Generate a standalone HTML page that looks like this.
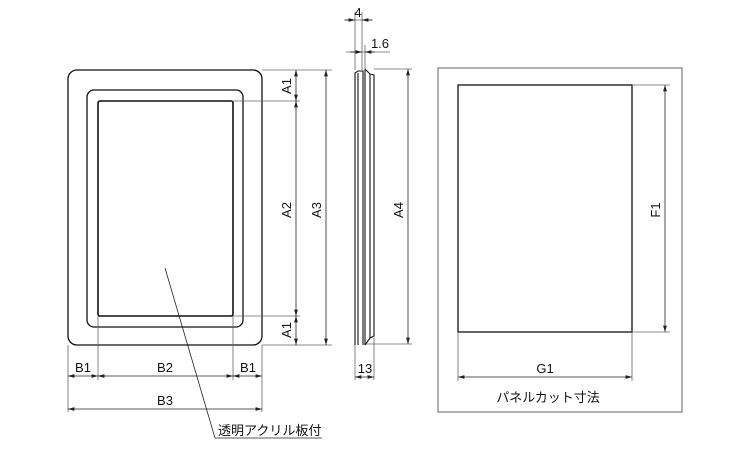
<!DOCTYPE html>
<html><head><meta charset="utf-8"><style>
body{margin:0;background:#fff}
svg{display:block}
text{font-family:"Liberation Sans","Noto Sans CJK JP",sans-serif;font-size:13px;fill:#111}
</style></head><body>
<svg width="750" height="450" viewBox="0 0 750 450" xmlns="http://www.w3.org/2000/svg">
<defs>
<marker id="a" viewBox="0 0 10 6" refX="10" refY="3" markerWidth="8" markerHeight="5" orient="auto-start-reverse"><path d="M0,0L10,3L0,6z" fill="#222"/></marker>
</defs>
<g fill="none" stroke="#111" stroke-width="1.3">
<rect x="68" y="70" width="194" height="275" rx="9"/>
<rect x="87" y="90" width="156" height="237" rx="7"/>
<rect x="98" y="101" width="135" height="215" rx="2" stroke-width="1.6"/>
</g>
<g stroke="#666" stroke-width="0.8" fill="none">
<line x1="262" y1="70" x2="332" y2="70"/>
<line x1="233" y1="101" x2="300" y2="101"/>
<line x1="233" y1="316" x2="300" y2="316"/>
<line x1="262" y1="345" x2="332" y2="345"/>
<line x1="68" y1="345" x2="68" y2="412"/>
<line x1="98" y1="316" x2="98" y2="380"/>
<line x1="233" y1="316" x2="233" y2="380"/>
<line x1="262" y1="345" x2="262" y2="412"/>
</g>
<g stroke="#222" stroke-width="0.8" marker-start="url(#a)" marker-end="url(#a)">
<line x1="296" y1="70" x2="296" y2="101"/>
<line x1="296" y1="101" x2="296" y2="316"/>
<line x1="296" y1="316" x2="296" y2="345"/>
<line x1="326" y1="70" x2="326" y2="345"/>
<line x1="68" y1="376" x2="98" y2="376"/>
<line x1="98" y1="376" x2="233" y2="376"/>
<line x1="233" y1="376" x2="262" y2="376"/>
<line x1="68" y1="409" x2="262" y2="409"/>
<line x1="408" y1="69" x2="408" y2="344"/>
<line x1="665" y1="85" x2="665" y2="332"/>
<line x1="458" y1="377" x2="632" y2="377"/>
</g>
<g transform="translate(291,86) rotate(-90)"><text text-anchor="middle">A1</text></g>
<g transform="translate(291,210) rotate(-90)"><text text-anchor="middle">A2</text></g>
<g transform="translate(291,330) rotate(-90)"><text text-anchor="middle">A1</text></g>
<g transform="translate(321,210) rotate(-90)"><text text-anchor="middle">A3</text></g>
<g transform="translate(403,210) rotate(-90)"><text text-anchor="middle">A4</text></g>
<g transform="translate(660,210) rotate(-90)"><text text-anchor="middle">F1</text></g>
<text x="83" y="372" text-anchor="middle">B1</text>
<text x="165" y="372" text-anchor="middle">B2</text>
<text x="248" y="372" text-anchor="middle">B1</text>
<text x="165" y="405" text-anchor="middle">B3</text>
<!-- leader -->
<polyline points="165,268 215,438 322,438" fill="none" stroke="#222" stroke-width="0.8"/>
<text x="218" y="435">透明アクリル板付</text>
<!-- side view -->
<g fill="none" stroke="#111" stroke-width="1.1">
<path d="M355,345 L355,73 L358,71 L363,71 L363,345"/>
<line x1="358" y1="73" x2="358" y2="345"/>
<line x1="365" y1="69" x2="365" y2="345"/>
<path d="M365,69 L370,74 L374,75 L374,336 L370,338 L365,345"/>
<line x1="370" y1="74" x2="370" y2="338"/>
</g>
<g stroke="#666" stroke-width="0.8">
<line x1="355" y1="12" x2="355" y2="70"/>
<line x1="362" y1="12" x2="362" y2="70"/>
<line x1="365" y1="45" x2="365" y2="70"/>
<line x1="374" y1="69" x2="412" y2="69"/>
<line x1="366" y1="344" x2="412" y2="344"/>
<line x1="355" y1="345" x2="355" y2="380"/>
<line x1="374" y1="338" x2="374" y2="380"/>
<line x1="344" y1="20" x2="373" y2="20"/>
<line x1="346" y1="52" x2="390" y2="52"/>
</g>
<g stroke="#222" stroke-width="0.8" marker-end="url(#a)">
<line x1="345" y1="20" x2="355" y2="20"/>
<line x1="372" y1="20" x2="362" y2="20"/>
<line x1="350" y1="52" x2="362" y2="52"/>
<line x1="375" y1="52" x2="365" y2="52"/>
</g>
<line x1="355" y1="377" x2="374" y2="377" stroke="#222" stroke-width="0.8" marker-start="url(#a)" marker-end="url(#a)"/>
<text x="358" y="17" text-anchor="middle">4</text>
<text x="380" y="48" text-anchor="middle">1.6</text>
<text x="365" y="373" text-anchor="middle">13</text>
<!-- panel cut -->
<rect x="438" y="68" width="244" height="344" fill="none" stroke="#555" stroke-width="0.9"/>
<rect x="458" y="85" width="174" height="247" fill="none" stroke="#111" stroke-width="1.3"/>
<g stroke="#666" stroke-width="0.8">
<line x1="632" y1="85" x2="670" y2="85"/>
<line x1="632" y1="332" x2="670" y2="332"/>
<line x1="458" y1="332" x2="458" y2="381"/>
<line x1="632" y1="332" x2="632" y2="381"/>
</g>
<text x="545" y="373" text-anchor="middle">G1</text>
<text x="548" y="402" text-anchor="middle">パネルカット寸法</text>
</svg>
</body></html>
